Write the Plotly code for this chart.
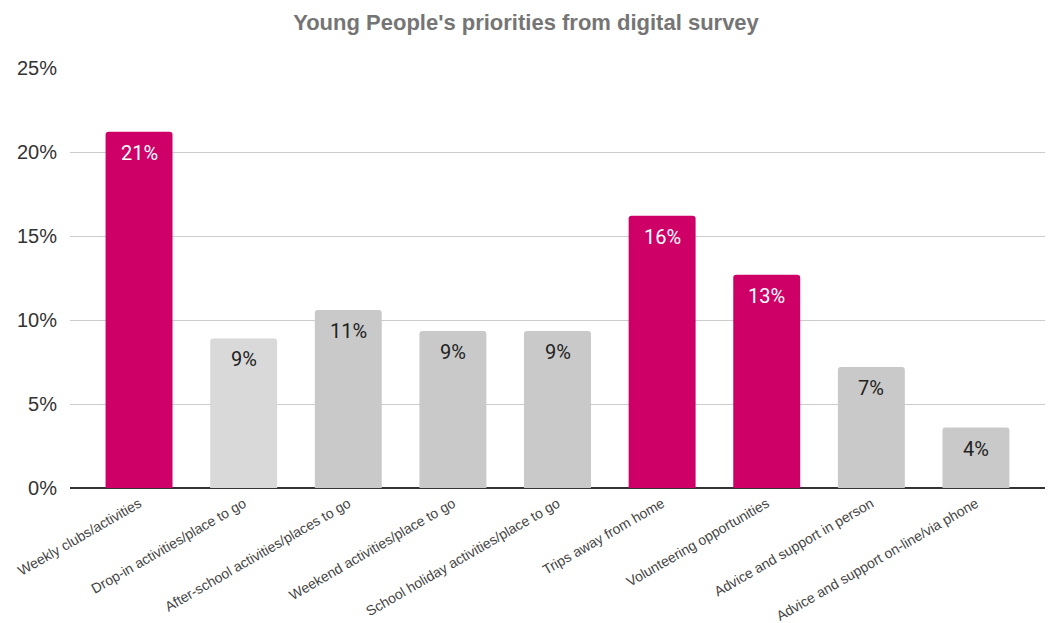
import plotly.graph_objects as go

categories = [
    "Weekly clubs/activities",
    "Drop-in activities/place to go",
    "After-school activities/places to go",
    "Weekend activities/place to go",
    "School holiday activities/place to go",
    "Trips away from home",
    "Volunteering opportunities",
    "Advice and support in person",
    "Advice and support on-line/via phone",
]
values = [0.212, 0.089, 0.106, 0.0935, 0.0935, 0.162, 0.127, 0.072, 0.036]
highlighted = [True, False, False, False, False, True, True, False, False]
y_ticks = [0, 0.05, 0.10, 0.15, 0.20, 0.25]

MAGENTA = "#CE0067"
GRAY = "#C9C9C9"
LIGHT = "#D9D9D9"

bar_colors = []
for i, h in enumerate(highlighted):
    if h:
        bar_colors.append(MAGENTA)
    elif i == 1:
        bar_colors.append(LIGHT)
    else:
        bar_colors.append(GRAY)

fig = go.Figure()
fig.add_trace(go.Bar(
    x=list(range(len(categories))),
    y=values,
    marker=dict(color=bar_colors, line=dict(width=0), cornerradius=3),
    width=0.64,
    hoverinfo="skip",
))

for i, (v, h) in enumerate(zip(values, highlighted)):
    fig.add_annotation(
        x=i, y=v, text=f"{round(v*100):d}%", showarrow=False,
        yanchor="top", yshift=-7,
        font=dict(family="Roboto", size=20, color="#FFFFFF" if h else "#222222"),
    )

fig.update_layout(
    width=1052, height=623,
    margin=dict(l=70, r=7, t=68, b=135, autoexpand=False),
    paper_bgcolor="white", plot_bgcolor="white",
    showlegend=False,
    title=dict(
        text="<b>Young People's priorities from digital survey</b>",
        x=0.5, xanchor="center", y=0.965, yanchor="middle",
        font=dict(family="Liberation Sans, Arial", size=22, color="#757575"),
    ),
    xaxis=dict(
        tickmode="array", tickvals=list(range(len(categories))), ticktext=categories,
        tickangle=-30, range=[-0.66, 8.66], automargin=False,
        tickfont=dict(family="Liberation Sans, Arial", size=14, color="#444444"),
        showgrid=False, showline=False, zeroline=False, ticks="",
        ticklabelstandoff=4,
    ),
    yaxis=dict(
        range=[0, 0.25], tickvals=y_ticks, tickformat=".0%", automargin=False,
        tickfont=dict(family="Liberation Sans, Arial", size=20, color="#333333"),
        showgrid=True, gridcolor="#CCCCCC", gridwidth=1,
        zeroline=True, zerolinecolor="#333333", zerolinewidth=1.5,
        ticks="", ticklabelstandoff=12,
    ),
)

fig.write_html("out.html")
